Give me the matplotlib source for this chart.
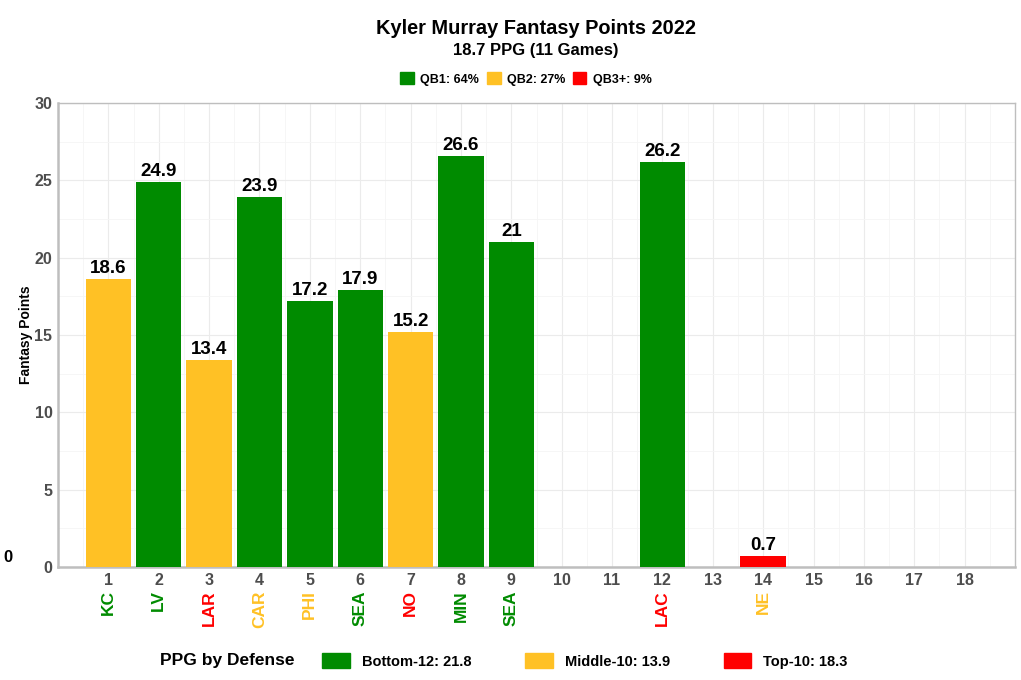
import matplotlib.pyplot as plt
from matplotlib.patches import Patch
import numpy as np

plt.rcParams['font.family'] = ['Liberation Sans', 'DejaVu Sans']

weeks = [1, 2, 3, 4, 5, 6, 7, 8, 9, 12, 14]
points = [18.6, 24.9, 13.4, 23.9, 17.2, 17.9, 15.2, 26.6, 21, 26.2, 0.7]
bar_tier = ['QB2', 'QB1', 'QB2', 'QB1', 'QB1', 'QB1', 'QB2', 'QB1', 'QB1', 'QB1', 'QB3+']
opponents = ['KC', 'LV', 'LAR', 'CAR', 'PHI', 'SEA', 'NO', 'MIN', 'SEA', 'LAC', 'NE']
opp_tier = ['Bottom', 'Bottom', 'Top', 'Middle', 'Middle', 'Bottom', 'Top', 'Bottom', 'Bottom', 'Top', 'Middle']

green = '#008B00'
gold = '#FFC125'
red = '#FF0000'
tier_colors = {'QB1': green, 'QB2': gold, 'QB3+': red}
def_colors = {'Bottom': green, 'Middle': gold, 'Top': red}

fig = plt.figure(figsize=(10.21, 6.8), dpi=100)
ax = fig.add_axes([58 / 1021, 1 - 567 / 680, (1015 - 58) / 1021, (567 - 103) / 680])

ax.bar(weeks, points, width=0.9, color=[tier_colors[t] for t in bar_tier], zorder=3)
for w, p in zip(weeks, points):
    ax.text(w, p + 0.12, f'{p:g}', ha='center', va='bottom', fontsize=13.5, fontweight='bold', zorder=4)

ax.set_xlim(0.0, 19.0)
ax.set_ylim(0, 30)
ax.set_xticks(range(1, 19))
ax.set_xticks(np.arange(0.5, 19, 1), minor=True)
ax.set_yticks(range(0, 31, 5))
ax.set_yticks(np.arange(2.5, 30, 5), minor=True)
ax.grid(which='major', color='#EBEBEB', linewidth=0.8, zorder=0)
ax.grid(which='minor', color='#F5F5F5', linewidth=0.6, zorder=0)
ax.tick_params(which='both', length=0)
ax.tick_params(axis='both', labelsize=11.5, labelcolor='#4D4D4D', pad=4)
for lab in ax.get_xticklabels() + ax.get_yticklabels():
    lab.set_fontweight('bold')
for s in ax.spines.values():
    s.set_color('#BEBEBE')
    s.set_linewidth(1.0)
ax.spines['left'].set_linewidth(1.8)
ax.spines['bottom'].set_linewidth(1.8)

ax.set_ylabel('Fantasy Points', fontsize=10, fontweight='bold', labelpad=1)

# opponent labels under week numbers
trans = ax.get_xaxis_transform()
for w, o, t in zip(weeks, opponents, opp_tier):
    ax.text(w, -0.05, o, transform=trans, rotation=90, ha='center', va='top',
            fontsize=12.5, fontweight='bold', color=def_colors[t])

fig.text(8 / 1021, 1 - 557 / 680, '0', fontsize=12, fontweight='bold', ha='center', va='center')

fig.text(536 / 1021, 1 - 28 / 680, 'Kyler Murray Fantasy Points 2022', ha='center', va='center',
         fontsize=14.4, fontweight='bold')
fig.text(536 / 1021, 1 - 50 / 680, '18.7 PPG (11 Games)', ha='center', va='center',
         fontsize=12, fontweight='bold')

top_handles = [Patch(color=green, label='QB1: 64%'),
               Patch(color=gold, label='QB2: 27%'),
               Patch(color=red, label='QB3+: 9%')]
fig.legend(handles=top_handles, loc='center', bbox_to_anchor=(526 / 1021, 1 - 79 / 680), ncol=3,
           frameon=False, prop={'size': 9, 'weight': 'bold'}, handlelength=1.1, handleheight=1.1,
           handletextpad=0.5, columnspacing=0.6)

fig.text(160 / 1021, 1 - 661 / 680, 'PPG by Defense', ha='left', va='center',
         fontsize=12.5, fontweight='bold')
bottom_handles = [Patch(color=green, label='Bottom-12: 21.8'),
                  Patch(color=gold, label='Middle-10: 13.9'),
                  Patch(color=red, label='Top-10: 18.3')]
fig.legend(handles=bottom_handles, loc='center', bbox_to_anchor=(585 / 1021, 1 - 661 / 680), ncol=3,
           frameon=False, prop={'size': 10.5, 'weight': 'bold'}, handlelength=1.9, handleheight=1.15,
           handletextpad=0.8, columnspacing=3.7)

fig.savefig('out.png', dpi=100)
